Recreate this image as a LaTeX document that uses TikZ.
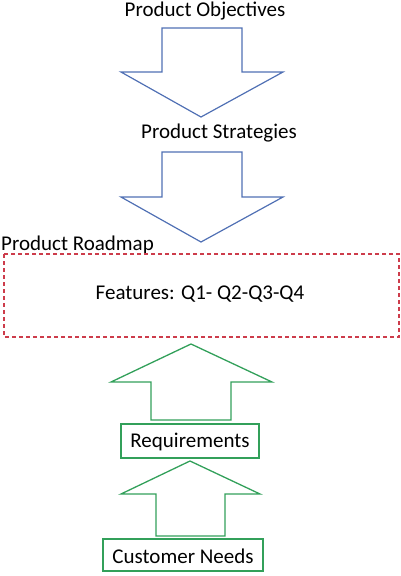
\documentclass[tikz,border=0pt]{standalone}
\usepackage{fontspec}
\setmainfont{Carlito}
\definecolor{arrblue}{RGB}{80,112,180}
\definecolor{arrgreen}{RGB}{50,160,90}
\definecolor{dashred}{RGB}{205,60,75}
\tikzset{
  lbl/.style={inner sep=0pt, anchor=base, font=\fontsize{21}{24}\selectfont, text=black},
  bluearrow/.style={draw=arrblue, line width=1.2pt, line join=miter},
  greenarrow/.style={draw=arrgreen, line width=1.3pt, line join=miter},
  greenbox/.style={draw=arrgreen, line width=1.3pt},
  dashbox/.style={draw=dashred, line width=1.3pt, dash pattern=on 4pt off 3pt},
}
\begin{document}
\begin{tikzpicture}[x=1pt,y=-1pt]
\useasboundingbox (0,0) rectangle (401,576);
% texts
\node[lbl] (obj) at (205,16) {Product Objectives};
\node[lbl] (strat) at (219,138) {Product Strategies};
% blue arrows
\draw[bluearrow] (162,28) -- (242,28) -- (242,72) -- (283,72) -- (201,117) -- (121,72) -- (162,72) -- cycle;
\draw[bluearrow] (162,152) -- (242,152) -- (242,197) -- (283,197) -- (201,242) -- (121,197) -- (162,197) -- cycle;
% roadmap
\node[lbl, anchor=base west] (road) at (1,250) {Product Roadmap};
\draw[dashbox] (4,254) rectangle (399,337);
\node[lbl] (feat) at (200,299) {Features: Q1- Q2-Q3-Q4};
% green arrows
\draw[greenarrow] (151,420) -- (151,382) -- (111,382) -- (191,344) -- (272,382) -- (231,382) -- (231,420) -- cycle;
\draw[greenbox] (121,424) rectangle (259,458);
\node[lbl] (req) at (190,447) {Requirements};
\draw[greenarrow] (156,536) -- (156,494) -- (121,494) -- (190,461) -- (260,494) -- (225,494) -- (225,536) -- cycle;
\draw[greenbox] (103,539) rectangle (263,571);
\node[lbl] (cust) at (183,563) {Customer Needs};
\end{tikzpicture}
\end{document}
